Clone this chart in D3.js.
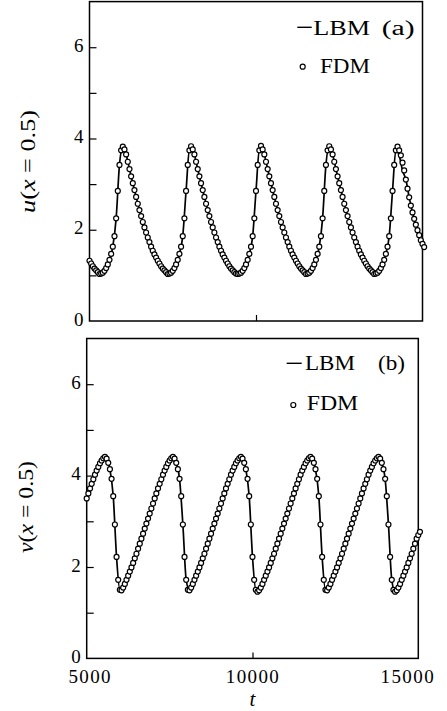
<!DOCTYPE html>
<html>
<head>
<meta charset="utf-8">
<script src="https://cdn.jsdelivr.net/npm/d3@7/dist/d3.min.js"></script>
<style>
  body { margin: 0; background: #fff; }
  svg { display: block; }
  svg text { font-family: "Liberation Serif", "Times New Roman", serif; }
</style>
</head>
<body>
<svg id="fig" width="447" height="711"></svg>
<script>
// time axis
const tDomain = [5000, 15000];
const tTicks = [5000, 10000, 15000];
const tTickLabels = ['5000', '10000', '15000'];
const yDomain = [0, 7];
const yTicks = [1, 2, 3, 4, 5, 6];
const yLabelTicks = [0, 2, 4, 6];

// sampling of the two solutions (t of first sample, spacing)
const fdmStart = 5000, fdmStep = 50;
const lbmStart = 5000, lbmStep = 100;

// u(x = 0.5)
const uFdm = [
  1.32, 1.26, 1.20, 1.15, 1.11, 1.07, 1.03, 1.04, 1.06, 1.10,
  1.16, 1.24, 1.34, 1.47, 1.63, 1.86, 2.25, 2.85, 3.42, 3.74,
  3.82, 3.76, 3.65, 3.49, 3.33, 3.17, 3.02, 2.87, 2.72, 2.57,
  2.43, 2.30, 2.17, 2.05, 1.94, 1.83, 1.73, 1.63, 1.54, 1.46,
  1.39, 1.32, 1.26, 1.20, 1.15, 1.11, 1.07, 1.03, 1.04, 1.06,
  1.10, 1.16, 1.24, 1.34, 1.47, 1.63, 1.86, 2.25, 2.85, 3.42,
  3.74, 3.83, 3.76, 3.65, 3.49, 3.33, 3.17, 3.02, 2.87, 2.72,
  2.57, 2.43, 2.30, 2.17, 2.05, 1.94, 1.83, 1.73, 1.63, 1.54,
  1.46, 1.39, 1.32, 1.26, 1.20, 1.15, 1.11, 1.07, 1.04, 1.03,
  1.04, 1.06, 1.10, 1.16, 1.24, 1.34, 1.47, 1.63, 1.86, 2.25,
  2.85, 3.42, 3.74, 3.84, 3.76, 3.65, 3.49, 3.33, 3.17, 3.02,
  2.87, 2.72, 2.57, 2.43, 2.30, 2.17, 2.05, 1.94, 1.83, 1.73,
  1.63, 1.54, 1.46, 1.39, 1.32, 1.26, 1.20, 1.15, 1.11, 1.07,
  1.03, 1.04, 1.06, 1.10, 1.16, 1.24, 1.34, 1.47, 1.63, 1.86,
  2.25, 2.85, 3.42, 3.74, 3.83, 3.76, 3.65, 3.49, 3.33, 3.17,
  3.02, 2.87, 2.72, 2.57, 2.43, 2.30, 2.17, 2.05, 1.94, 1.83,
  1.73, 1.63, 1.54, 1.46, 1.39, 1.32, 1.26, 1.20, 1.15, 1.11,
  1.07, 1.03, 1.04, 1.06, 1.10, 1.16, 1.24, 1.34, 1.47, 1.63,
  1.86, 2.25, 2.85, 3.42, 3.74, 3.82, 3.74, 3.63, 3.47, 3.30,
  3.10, 2.90, 2.71, 2.53, 2.38, 2.24, 2.11, 1.99, 1.88, 1.77,
  1.69, 1.62
];
const uLbm = [
  1.32, 1.20, 1.11, 1.03, 1.06,  1.16, 1.34, 1.63, 2.25, 3.42,
  3.82, 3.65, 3.33, 3.02, 2.72,  2.43, 2.17, 1.94, 1.73, 1.54,
  1.39, 1.26, 1.15, 1.07, 1.04,  1.10, 1.24, 1.47, 1.86, 2.85,
  3.74, 3.76, 3.49, 3.17, 2.87,  2.57, 2.30, 2.05, 1.83, 1.63,
  1.46, 1.32, 1.20, 1.11, 1.04,  1.04, 1.10, 1.24, 1.47, 1.86,
  2.85, 3.74, 3.76, 3.49, 3.17,  2.87, 2.57, 2.30, 2.05, 1.83,
  1.63, 1.46, 1.32, 1.20, 1.11,  1.03, 1.06, 1.16, 1.34, 1.63,
  2.25, 3.42, 3.83, 3.65, 3.33,  3.02, 2.72, 2.43, 2.17, 1.94,
  1.73, 1.54, 1.39, 1.26, 1.15,  1.07, 1.04, 1.10, 1.24, 1.47,
  1.86, 2.85, 3.74, 3.63, 3.30,  3.10, 2.71, 2.38, 2.11, 1.88,
  1.69
];

// v(x = 0.5)
const vFdm = [
  3.50, 3.61, 3.72, 3.82, 3.92, 4.02, 4.11, 4.19, 4.27, 4.33,
  4.38, 4.41, 4.37, 4.28, 4.14, 3.93, 3.55, 2.93, 2.22, 1.72,
  1.50, 1.49, 1.55, 1.63, 1.72, 1.81, 1.90, 1.99, 2.09, 2.19,
  2.29, 2.40, 2.51, 2.62, 2.73, 2.84, 2.95, 3.06, 3.17, 3.28,
  3.39, 3.50, 3.61, 3.72, 3.82, 3.92, 4.02, 4.11, 4.19, 4.27,
  4.33, 4.38, 4.41, 4.37, 4.28, 4.14, 3.93, 3.55, 2.93, 2.22,
  1.72, 1.50, 1.49, 1.55, 1.63, 1.72, 1.81, 1.90, 1.99, 2.09,
  2.19, 2.29, 2.40, 2.51, 2.62, 2.73, 2.84, 2.95, 3.06, 3.17,
  3.28, 3.39, 3.50, 3.61, 3.72, 3.82, 3.92, 4.02, 4.11, 4.19,
  4.27, 4.33, 4.38, 4.41, 4.37, 4.28, 4.14, 3.93, 3.55, 2.93,
  2.22, 1.72, 1.50, 1.46, 1.49, 1.55, 1.63, 1.72, 1.81, 1.90,
  1.99, 2.09, 2.19, 2.29, 2.40, 2.51, 2.62, 2.73, 2.84, 2.95,
  3.06, 3.17, 3.28, 3.39, 3.50, 3.61, 3.72, 3.82, 3.92, 4.02,
  4.11, 4.19, 4.27, 4.33, 4.38, 4.41, 4.37, 4.28, 4.14, 3.93,
  3.55, 2.93, 2.22, 1.72, 1.50, 1.49, 1.55, 1.63, 1.72, 1.81,
  1.90, 1.99, 2.09, 2.19, 2.29, 2.40, 2.51, 2.62, 2.73, 2.84,
  2.95, 3.06, 3.17, 3.28, 3.39, 3.50, 3.61, 3.72, 3.82, 3.92,
  4.02, 4.11, 4.19, 4.27, 4.33, 4.38, 4.41, 4.37, 4.28, 4.14,
  3.93, 3.55, 2.93, 2.22, 1.72, 1.50, 1.46, 1.49, 1.55, 1.63,
  1.72, 1.81, 1.90, 1.99, 2.09, 2.19, 2.29, 2.40, 2.51, 2.62,
  2.70, 2.77
];
const vLbm = [
  3.50, 3.72, 3.92, 4.11, 4.27,  4.38, 4.37, 4.14, 3.55, 2.22,
  1.50, 1.55, 1.72, 1.90, 2.09,  2.29, 2.51, 2.73, 2.95, 3.17,
  3.39, 3.61, 3.82, 4.02, 4.19,  4.33, 4.41, 4.28, 3.93, 2.93,
  1.72, 1.49, 1.63, 1.81, 1.99,  2.19, 2.40, 2.62, 2.84, 3.06,
  3.28, 3.50, 3.72, 3.92, 4.11,  4.27, 4.38, 4.37, 4.14, 3.55,
  2.22, 1.50, 1.49, 1.63, 1.81,  1.99, 2.19, 2.40, 2.62, 2.84,
  3.06, 3.28, 3.50, 3.72, 3.92,  4.11, 4.27, 4.38, 4.37, 4.14,
  3.55, 2.22, 1.50, 1.55, 1.72,  1.90, 2.09, 2.29, 2.51, 2.73,
  2.95, 3.17, 3.39, 3.61, 3.82,  4.02, 4.19, 4.33, 4.41, 4.28,
  3.93, 2.93, 1.72, 1.46, 1.55,  1.72, 1.90, 2.09, 2.29, 2.51,
  2.70
];

const serif = '"Liberation Serif", "Times New Roman", serif';

const panels = [
  {
    tag: '(a)', varName: 'u', fdm: uFdm, lbm: uLbm,
    xRange: [89.5, 422.5], yRange: [321, 1.6],
    label: {x: 35, y: 161.5, len: 103},
    legend: {dash: [297.3, 311.7, 27.3], lbm: [313.3, 35, 56.7], tag: [381.7, 35, 33],
             dot: [302.7, 66.7], fdm: [320, 73.3, 50]},
    showTime: false
  },
  {
    tag: '(b)', varName: 'v', fdm: vFdm, lbm: vLbm,
    xRange: [86.7, 418.3], yRange: [658.4, 338.5],
    label: {x: 32.5, y: 507, len: 92},
    legend: {dash: [286.7, 301.7, 363.3], lbm: [305, 370, 50], tag: [378, 370, 27],
             dot: [293.3, 405], fdm: [306.7, 410, 51.6]},
    showTime: true
  }
];

const svg = d3.select('#fig');

function series(values, start, step) {
  return values.map((v, i) => ({t: start + i * step, v: v}));
}

function drawPanel(p) {
  const x = d3.scaleLinear().domain(tDomain).range(p.xRange);
  const y = d3.scaleLinear().domain(yDomain).range(p.yRange);
  const g = svg.append('g');

  const [x0, x1] = x.range();
  const [yb, yt] = y.range();

  // frame
  g.append('rect')
    .attr('x', x0).attr('y', yt)
    .attr('width', x1 - x0).attr('height', yb - yt)
    .attr('fill', 'none')
    .attr('stroke', '#000')
    .attr('stroke-width', 1.5);

  // inward ticks on the left side
  const yTickAxis = g.append('g')
    .attr('transform', `translate(${x0},0)`)
    .call(d3.axisRight(y).tickValues(yTicks).tickSize(7).tickFormat(''));
  yTickAxis.select('.domain').remove();
  yTickAxis.selectAll('line').attr('stroke-width', 1.2);

  // y tick labels, sitting a little above their ticks as in the print
  const yLab = g.append('g')
    .attr('transform', `translate(${x0},-2)`)
    .call(d3.axisLeft(y).tickValues(yLabelTicks).tickSize(0).tickPadding(6).tickFormat(d3.format('d')));
  yLab.select('.domain').remove();
  yLab.selectAll('text')
    .style('font-family', serif)
    .attr('font-size', 19)
    .attr('fill', '#000');

  // inward tick at the middle of the time axis
  const tTickAxis = g.append('g')
    .attr('transform', `translate(0,${yb})`)
    .call(d3.axisTop(x).tickValues([10000]).tickSize(6).tickFormat(''));
  tTickAxis.select('.domain').remove();
  tTickAxis.selectAll('line').attr('stroke-width', 1.2);

  if (p.showTime) {
    const tLab = g.append('g')
      .attr('transform', `translate(0,${yb})`)
      .call(d3.axisBottom(x).tickValues(tTicks).tickSize(0).tickPadding(11)
        .tickFormat((d, i) => tTickLabels[i]));
    tLab.select('.domain').remove();
    const shift = [3, 0, -11];
    tLab.selectAll('text')
      .style('font-family', serif)
      .attr('font-size', 19)
      .attr('letter-spacing', 1.4)
      .attr('fill', '#000')
      .attr('dx', (d, i) => shift[i]);

    g.append('text')
      .attr('x', x(10000)).attr('y', 706)
      .attr('text-anchor', 'middle')
      .attr('font-size', 21)
      .attr('font-style', 'italic')
      .text('t');
  }

  // axis label, e.g. u(x = 0.5)
  const lab = g.append('text')
    .attr('transform', `translate(${p.label.x},${p.label.y}) rotate(-90)`)
    .attr('text-anchor', 'middle')
    .attr('font-size', 20)
    .attr('textLength', p.label.len)
    .attr('lengthAdjust', 'spacingAndGlyphs');
  lab.append('tspan').attr('font-style', 'italic').text(p.varName);
  lab.append('tspan').text('(');
  lab.append('tspan').attr('font-style', 'italic').text('x');
  lab.append('tspan').text(' = 0.5)');

  // LBM line
  const line = d3.line()
    .x((d) => x(d.t))
    .y((d) => y(d.v))
    .curve(d3.curveMonotoneX);
  g.append('path')
    .datum(series(p.lbm, lbmStart, lbmStep))
    .attr('d', line)
    .attr('fill', 'none')
    .attr('stroke', '#000')
    .attr('stroke-width', 1.7);

  // FDM markers
  g.append('g').selectAll('circle')
    .data(series(p.fdm, fdmStart, fdmStep))
    .join('circle')
      .attr('cx', (d) => x(d.t))
      .attr('cy', (d) => y(d.v))
      .attr('r', 2.5)
      .attr('fill', '#fff')
      .attr('stroke', '#000')
      .attr('stroke-width', 1.2);

  // legend
  const L = p.legend;
  g.append('line')
    .attr('x1', L.dash[0]).attr('x2', L.dash[1])
    .attr('y1', L.dash[2]).attr('y2', L.dash[2])
    .attr('stroke', '#000').attr('stroke-width', 1.4);
  const legendText = [
    {s: 'LBM', pos: L.lbm},
    {s: p.tag, pos: L.tag},
    {s: 'FDM', pos: L.fdm}
  ];
  g.selectAll('.legend-text')
    .data(legendText)
    .join('text')
      .attr('class', 'legend-text')
      .attr('x', (d) => d.pos[0])
      .attr('y', (d) => d.pos[1])
      .attr('font-size', 20)
      .attr('textLength', (d) => d.pos[2])
      .attr('lengthAdjust', 'spacingAndGlyphs')
      .text((d) => d.s);
  g.append('circle')
    .attr('cx', L.dot[0]).attr('cy', L.dot[1])
    .attr('r', 2.5)
    .attr('fill', '#fff')
    .attr('stroke', '#000')
    .attr('stroke-width', 1.2);
}

panels.forEach(drawPanel);
</script>
</body>
</html>
